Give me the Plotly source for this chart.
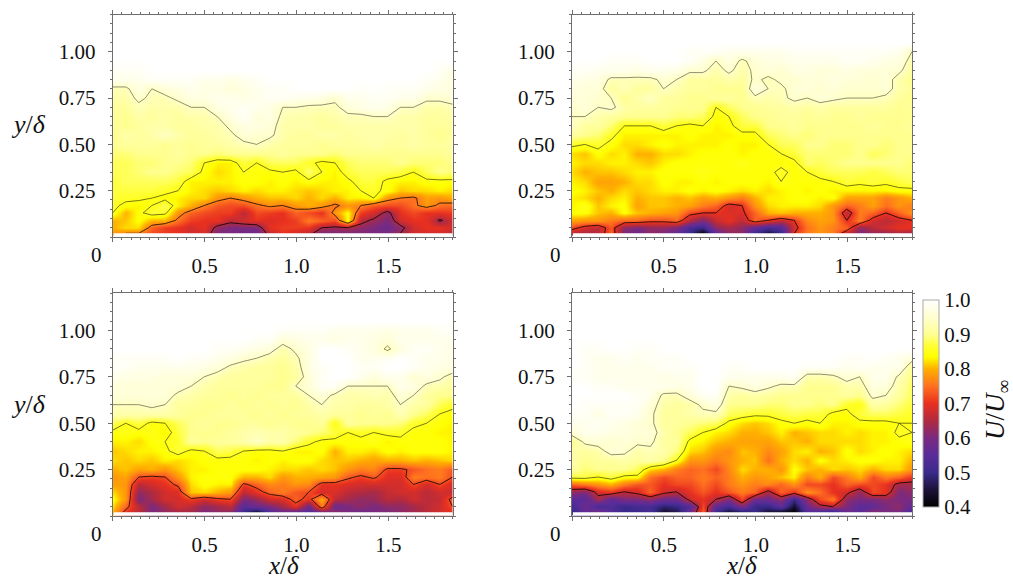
import plotly.graph_objects as go

W, H = 1013, 581
X_GRID = [0, .071, .142, .213, .285, .356, .427, .498, .569, .640, .712, .783, .854, .925, .996,
          1.067, 1.138, 1.21, 1.28, 1.35, 1.42, 1.495, 1.565, 1.636, 1.708, 1.78, 1.85]
Y_GRID = [1.2, 1.05, 1.0, .95, .90, .85, .80, .75, .70, .65, .60, .55, .50, .45, .40, .35, .30, .25, .21, .17, .13, .09, .05, .02]
FREE = [100, 100, 100, 100, 100, 100, 100, 100, 100, 100, 100, 100, 100, 100, 100, 100, 100, 100, 100, 100, 100, 100, 100, 100, 100, 100, 100]

PANEL_A = [
    FREE,
    FREE,
    FREE,
    FREE,
    [99,99,99,100,100,100,100,100,100,100,100,100,100,100,100,100,100,100,100,100,100,100,100,100,100,99,97],
    [98,98,98,99,99,99,99,98,98,97,98,99,100,100,100,100,100,100,100,100,100,100,100,100,99,98,96],
    [93,93,97,94,96,97,98,97,97,96,97,98,99,99,100,100,100,100,100,99,100,99,99,99,98,97,97],
    [92,92,95,93,93,95,97,97,98,98,97,98,99,99,98,98,97,95,98,98,99,99,98,98,95,95,96],
    [91,91,93,92,92,92,94,94,97,98,99,98,97,94,94,93,93,93,96,97,98,97,94,94,92,92,93],
    [91,90,92,91,92,91,92,92,94,97,99,96,97,93,92,92,91,92,93,93,94,94,92,92,91,91,92],
    [91,90,91,92,92,91,91,92,92,95,97,97,96,92,92,92,91,91,92,92,92,92,92,92,91,91,91],
    [90,92,91,92,94,92,91,91,92,93,96,95,95,92,91,91,92,92,91,92,92,92,91,92,91,90,91],
    [90,91,91,91,90,91,90,91,91,92,93,94,92,91,91,91,90,91,91,91,92,91,91,92,91,91,92],
    [89,89,90,90,90,91,90,90,89,90,90,90,90,91,90,90,90,89,90,90,90,90,90,90,90,90,91],
    [88,88,89,89,90,90,89,85,83,83,87,85,88,88,88,86,84,85,88,89,89,89,90,89,89,89,90],
    [88,88,89,90,90,89,88,84,82,83,85,84,84,85,84,89,85,83,87,88,88,88,87,85,88,90,89],
    [87,88,88,88,88,87,83,83,83,83,84,84,83,84,83,84,83,83,84,87,87,84,83,83,84,84,84],
    [87,87,87,87,86,85,83,82,81,82,83,82,83,83,82,81,82,83,83,85,86,84,81,82,82,83,82],
    [87,86,86,85,84,83,82,82,78,76,78,80,81,81,82,80,82,80,83,83,85,78,76,75,79,78,80],
    [86,84,83,85,88,83,80,76,73,72,72,75,77,76,78,80,78,75,78,76,73,72,72,75,78,75,74],
    [85,80,84,87,86,78,74,72,71,71,66,72,71,70,74,72,70,78,84,71,68,62,70,72,70,70,71],
    [80,81,84,80,80,75,71,70,70,66,68,70,69,70,71,76,74,72,84,66,63,60,68,70,70,63,68],
    [80,82,82,74,71,70,68,70,62,60,60,60,70,71,71,70,64,63,64,62,60,58,62,68,70,70,68],
    [78,76,76,72,71,70,68,68,60,60,58,58,66,70,68,66,60,60,60,60,60,60,64,68,68,68,66],
]
PANEL_B = [
    FREE,
    FREE,
    [100,100,100,100,100,100,100,100,100,99,99,99,98,98,98,98,98,99,99,99,99,99,99,99,99,98,94],
    [100,100,100,99,99,99,100,100,100,99,97,94,97,93,96,97,97,98,98,98,98,99,99,98,97,97,92],
    [99,99,98,98,98,97,98,98,97,95,95,92,95,92,95,96,95,97,97,96,96,97,96,96,96,95,91],
    [98,97,97,93,93,93,93,95,94,91,91,91,92,91,95,93,95,95,96,96,97,96,96,95,96,92,90],
    [97,96,96,91,93,91,91,94,92,91,91,90,90,90,97,94,93,96,96,95,96,95,95,95,96,92,91],
    [96,96,95,94,90,92,94,91,91,90,90,91,91,90,93,92,93,95,94,96,95,94,94,94,93,91,90],
    [95,96,94,95,92,91,91,91,90,90,90,85,88,90,90,91,91,92,91,92,91,91,91,91,91,90,91],
    [94,94,92,91,90,90,90,90,89,89,88,84,85,88,90,90,91,91,90,91,90,90,91,90,90,90,90],
    [94,91,91,89,85,85,85,87,85,84,85,83,84,87,87,90,90,91,90,90,90,90,90,91,90,90,91],
    [91,90,89,86,83,83,83,83,83,84,83,83,83,84,84,88,89,90,89,90,90,90,90,90,90,90,90],
    [86,85,86,84,82,82,83,84,83,83,83,83,84,83,83,85,88,88,90,90,89,89,90,90,89,90,90],
    [82,81,84,82,83,80,80,82,82,83,84,84,84,83,84,84,85,87,89,89,89,89,90,88,89,90,90],
    [83,82,82,83,83,82,81,83,84,84,84,84,84,85,84,84,84,84,89,88,89,90,90,90,90,90,89],
    [82,80,81,81,82,83,83,84,84,84,85,84,84,84,84,84,86,84,85,87,88,88,88,87,88,89,89],
    [83,82,79,79,80,82,82,84,83,83,84,83,84,84,84,83,85,84,84,84,85,87,86,87,86,87,88],
    [84,83,81,80,82,81,82,83,83,84,83,84,83,82,83,82,83,84,83,84,83,83,83,83,83,84,84],
    [83,82,80,82,83,80,81,81,80,81,79,80,78,76,80,83,83,84,84,83,84,79,79,79,76,78,80],
    [83,85,81,83,84,79,81,81,80,79,76,74,68,70,78,82,83,83,83,82,78,74,76,79,75,78,76],
    [84,84,81,80,84,81,80,79,78,72,70,70,69,69,74,80,81,80,80,80,78,66,76,74,70,74,78],
    [79,78,78,76,74,74,72,72,74,65,60,67,70,66,74,70,66,70,77,79,78,70,76,68,66,68,70],
    [72,68,66,73,62,60,62,62,60,52,50,62,64,62,56,52,54,68,75,78,76,74,62,66,68,70,70],
    [66,64,66,74,60,58,62,60,56,50,40,56,62,62,50,44,50,70,76,78,76,66,60,62,62,64,62],
]
PANEL_C = [
    FREE,
    FREE,
    [100,100,100,100,100,100,100,100,100,100,100,100,100,99,99,99,99,98,98,98,98,97,98,98,98,99,99],
    [100,100,100,100,100,100,100,100,100,100,100,99,99,96,97,98,98,97,98,98,97,96,98,98,98,98,98],
    [100,100,100,100,100,100,100,100,99,99,98,97,96,92,95,97,100,100,99,98,97,93,97,99,99,98,97],
    [99,99,99,99,99,100,99,99,98,97,95,94,92,91,93,97,100,100,100,98,98,99,100,99,98,98,97],
    [99,99,98,98,98,98,98,97,96,93,92,91,91,90,92,97,99,100,100,99,99,100,100,99,98,97,97],
    [98,97,97,97,96,96,96,94,92,91,91,91,91,90,91,96,99,100,100,98,96,98,98,95,97,95,92],
    [96,96,96,96,96,96,94,92,91,91,91,91,90,90,94,96,99,99,94,94,94,94,98,97,93,92,91],
    [96,96,96,96,96,93,92,91,91,90,91,90,91,91,91,94,96,93,92,92,93,92,96,94,91,90,90],
    [94,94,94,95,94,91,91,90,90,91,90,91,90,91,90,92,94,92,92,91,91,92,94,92,91,88,86],
    [92,92,92,92,92,91,90,90,91,91,91,90,91,90,91,91,92,91,91,90,91,90,93,90,88,85,84],
    [88,85,87,84,85,88,90,91,90,90,91,91,90,91,90,90,91,85,91,90,90,90,89,86,85,84,83],
    [84,85,84,85,83,87,90,90,90,91,92,93,92,92,91,90,89,87,85,86,85,86,86,84,84,83,83],
    [83,83,82,84,85,86,91,90,91,91,92,94,92,92,89,86,84,84,84,84,85,83,84,84,84,84,83],
    [81,82,83,83,84,87,84,85,88,87,85,84,84,85,83,83,84,80,83,83,82,84,83,84,84,84,83],
    [82,81,82,81,83,82,83,84,84,84,84,83,84,83,84,84,82,81,81,80,79,80,80,81,80,81,82],
    [80,81,79,80,78,81,83,83,84,84,84,84,83,82,82,81,82,81,78,76,77,71,71,73,75,76,73],
    [78,79,72,71,72,78,83,84,84,84,80,80,82,78,80,80,79,78,73,71,73,69,69,76,75,76,72],
    [79,78,66,68,70,73,82,84,83,83,71,74,77,76,78,77,70,70,69,68,68,68,68,72,68,72,68],
    [82,78,62,65,68,69,81,82,80,78,66,70,74,76,73,72,68,69,66,65,64,67,68,68,66,68,67],
    [84,78,60,64,68,68,71,68,71,72,60,63,68,69,74,70,80,66,64,62,63,66,65,68,66,67,74],
    [82,74,66,60,64,68,66,62,64,66,55,58,60,64,70,58,76,58,60,62,60,62,62,64,66,68,72],
    [80,70,66,60,62,64,64,60,62,62,50,42,54,58,56,54,58,62,60,58,60,60,62,64,66,68,70],
]
PANEL_D = [
    FREE,
    FREE,
    FREE,
    FREE,
    [100,99,99,100,100,99,99,100,100,100,100,100,100,100,100,100,100,100,100,100,100,100,100,100,100,100,100],
    [100,99,98,98,99,98,99,99,99,100,100,100,100,100,100,100,100,100,100,100,100,99,99,100,99,98,96],
    [100,99,98,98,98,98,98,99,99,99,100,100,99,99,100,100,100,100,99,99,99,98,99,98,98,98,90],
    [99,99,98,98,98,98,98,97,98,98,100,100,98,98,98,98,98,99,92,92,93,96,94,98,98,93,89],
    [100,100,99,99,98,98,98,98,97,98,100,100,94,95,97,95,93,93,90,90,90,92,92,97,96,92,88],
    [100,100,100,100,100,99,98,93,93,96,99,99,92,91,92,91,90,90,90,90,90,91,90,95,94,91,88],
    [100,99,99,99,99,99,96,92,91,92,95,97,90,90,90,89,89,90,90,89,90,86,85,92,91,89,87],
    [99,99,97,99,99,98,95,91,91,92,93,93,88,87,86,86,87,88,87,87,84,84,87,88,88,87,86],
    [98,98,99,98,97,96,95,91,91,90,89,88,84,82,81,82,84,85,84,85,83,83,84,84,84,85,85],
    [96,98,98,97,97,96,96,92,90,88,85,83,82,80,80,81,83,80,81,82,82,83,82,83,83,86,85],
    [90,95,96,95,96,95,95,91,91,84,83,81,80,79,79,79,81,81,80,82,82,82,82,83,83,84,85],
    [92,91,92,96,95,92,93,92,89,82,81,78,77,81,80,77,79,82,83,80,81,84,82,83,84,83,82],
    [92,90,91,91,92,91,92,90,85,78,78,76,78,80,81,75,80,82,80,84,82,83,84,84,83,83,80],
    [91,89,90,90,90,88,82,80,76,74,75,72,77,82,80,80,78,84,81,80,82,81,82,80,82,82,78],
    [87,87,85,87,84,84,75,72,74,74,76,74,76,80,78,79,81,83,76,80,72,76,80,72,76,74,70],
    [74,76,78,80,76,73,73,70,72,72,75,72,76,78,76,77,74,78,72,72,70,74,72,72,70,64,64],
    [62,60,68,70,66,68,74,68,66,70,73,70,73,76,74,64,74,70,78,75,70,68,62,72,70,60,62],
    [55,55,64,56,60,60,62,58,58,68,70,66,60,72,58,58,62,50,62,72,76,62,60,60,62,60,60],
    [52,58,52,54,50,52,52,48,50,54,72,56,52,60,50,50,56,44,58,64,66,60,55,56,60,62,56],
    [50,56,60,54,50,50,52,44,46,58,74,50,44,46,50,44,42,40,54,52,48,58,55,62,60,60,52],
]

# (data, x px range, y px range, contour levels, axis suffix)
PANELS = [
    (PANEL_A, (112.7, 452.7), (14.7, 237), [94, 85, 76, 64], ""),
    (PANEL_B, (572, 912), (14.7, 237), [94, 85, 70], "2"),
    (PANEL_C, (112.7, 452.7), (293.3, 516), [94, 85, 72], "3"),
    (PANEL_D, (572, 912), (293.3, 516), [94, 85, 66], "4"),
]
SCALE = [[0, "#000000"], [.083, "#1c1238"], [.167, "#3a2a8a"], [.25, "#5a2c9a"], [.333, "#7a2a80"],
         [.417, "#b02a40"], [.5, "#e83020"], [.583, "#ff7020"], [.667, "#ffb000"], [.70, "#ffdc00"],
         [.725, "#ffff00"], [.775, "#ffff30"], [.833, "#ffff90"], [.917, "#ffffd0"], [1, "#ffffff"]]
FONT = "Liberation Serif"
GREY = "#6e6e6e"
LINE_ALPHA = {94: .45, 85: .55}

fig = go.Figure()
layout = {}
shapes = []
ys = Y_GRID[::-1]
for data, (x0, x1), (y0, y1), levels, s in PANELS:
    z = data[::-1]
    fig.add_trace(go.Heatmap(x=X_GRID, y=ys, z=z, coloraxis="coloraxis", zsmooth="best",
                             xaxis="x" + s, yaxis="y" + s, hoverinfo="skip"))
    for lv in levels:
        a = LINE_ALPHA.get(lv, .8)
        fig.add_trace(go.Contour(x=X_GRID, y=ys, z=z, xaxis="x" + s, yaxis="y" + s, showscale=False,
                                 autocontour=False, hoverinfo="skip",
                                 contours=dict(coloring="none", start=lv, end=lv, size=1),
                                 line=dict(color=f"rgba(0,0,0,{a})", width=1, smoothing=0)))
    common = dict(showgrid=False, zeroline=False, showline=True, linecolor=GREY, linewidth=1.2,
                  mirror="ticks", ticks="outside", ticklen=4, tickcolor=GREY, tickwidth=1,
                  tickfont=dict(family=FONT, size=21, color="#111"),
                  minor=dict(dtick=.05, ticks="outside", ticklen=2, tickcolor=GREY, tickwidth=1, showgrid=False))
    layout["xaxis" + s] = dict(domain=[x0 / W, x1 / W], range=[0, 1.85], anchor="y" + s,
                               tickvals=[0, .5, 1, 1.5], ticktext=["", "0.5", "1.0", "1.5"],
                               ticklabelstandoff=6, **common)
    layout["yaxis" + s] = dict(domain=[1 - y1 / H, 1 - y0 / H], range=[0, 1.2], anchor="x" + s,
                               tickvals=[.25, .5, .75, 1], ticktext=["0.25", "0.50", "0.75", "1.00"],
                               ticklabelstandoff=8, **common)
    shapes.append(dict(type="rect", xref="x" + s, yref="y" + s, x0=0.005, x1=1.85, y0=.004, y1=.02,
                       fillcolor="white", line_width=0, layer="above"))

def note(text, x, y, size=21, angle=0):
    return dict(text=text, x=x / W, y=1 - y / H, xref="paper", yref="paper", showarrow=False,
                xanchor="center", yanchor="middle", textangle=angle, borderpad=0,
                font=dict(family=FONT, size=size, color="#111"))

annos = [note("0", 96, 255), note("0", 555, 255), note("0", 96, 534), note("0", 555, 534),
         note("<i>y</i>/<i>δ</i>", 28, 125, 26), note("<i>y</i>/<i>δ</i>", 28, 404, 26),
         note("<i>x</i>/<i>δ</i>", 283, 565, 25), note("<i>x</i>/<i>δ</i>", 741, 565, 25),
         note("<i>U</i>/<i>U</i><sub>∞</sub>", 997, 410, 27, -90)]

fig.update_layout(
    width=W, height=H, margin=dict(l=0, r=0, t=0, b=0), paper_bgcolor="white", plot_bgcolor="white",
    showlegend=False, annotations=annos, shapes=shapes,
    coloraxis=dict(cmin=40, cmax=100, colorscale=SCALE, colorbar=dict(
        thicknessmode="pixels", thickness=16, lenmode="pixels", len=207, xanchor="left", x=923 / W,
        yanchor="top", y=1 - 300 / H, xpad=0, ypad=0, outlinecolor="#aaa", outlinewidth=1,
        ticks="", tickvals=[40, 50, 60, 70, 80, 90, 100],
        ticktext=["0.4", "0.5", "0.6", "0.7", "0.8", "0.9", "1.0"],
        ticklabelposition="outside", tickfont=dict(family=FONT, size=21, color="#111"))),
    **layout)
fig.write_html("out.html", post_script="document.body.style.margin='0';",
               config={"displayModeBar": False})
